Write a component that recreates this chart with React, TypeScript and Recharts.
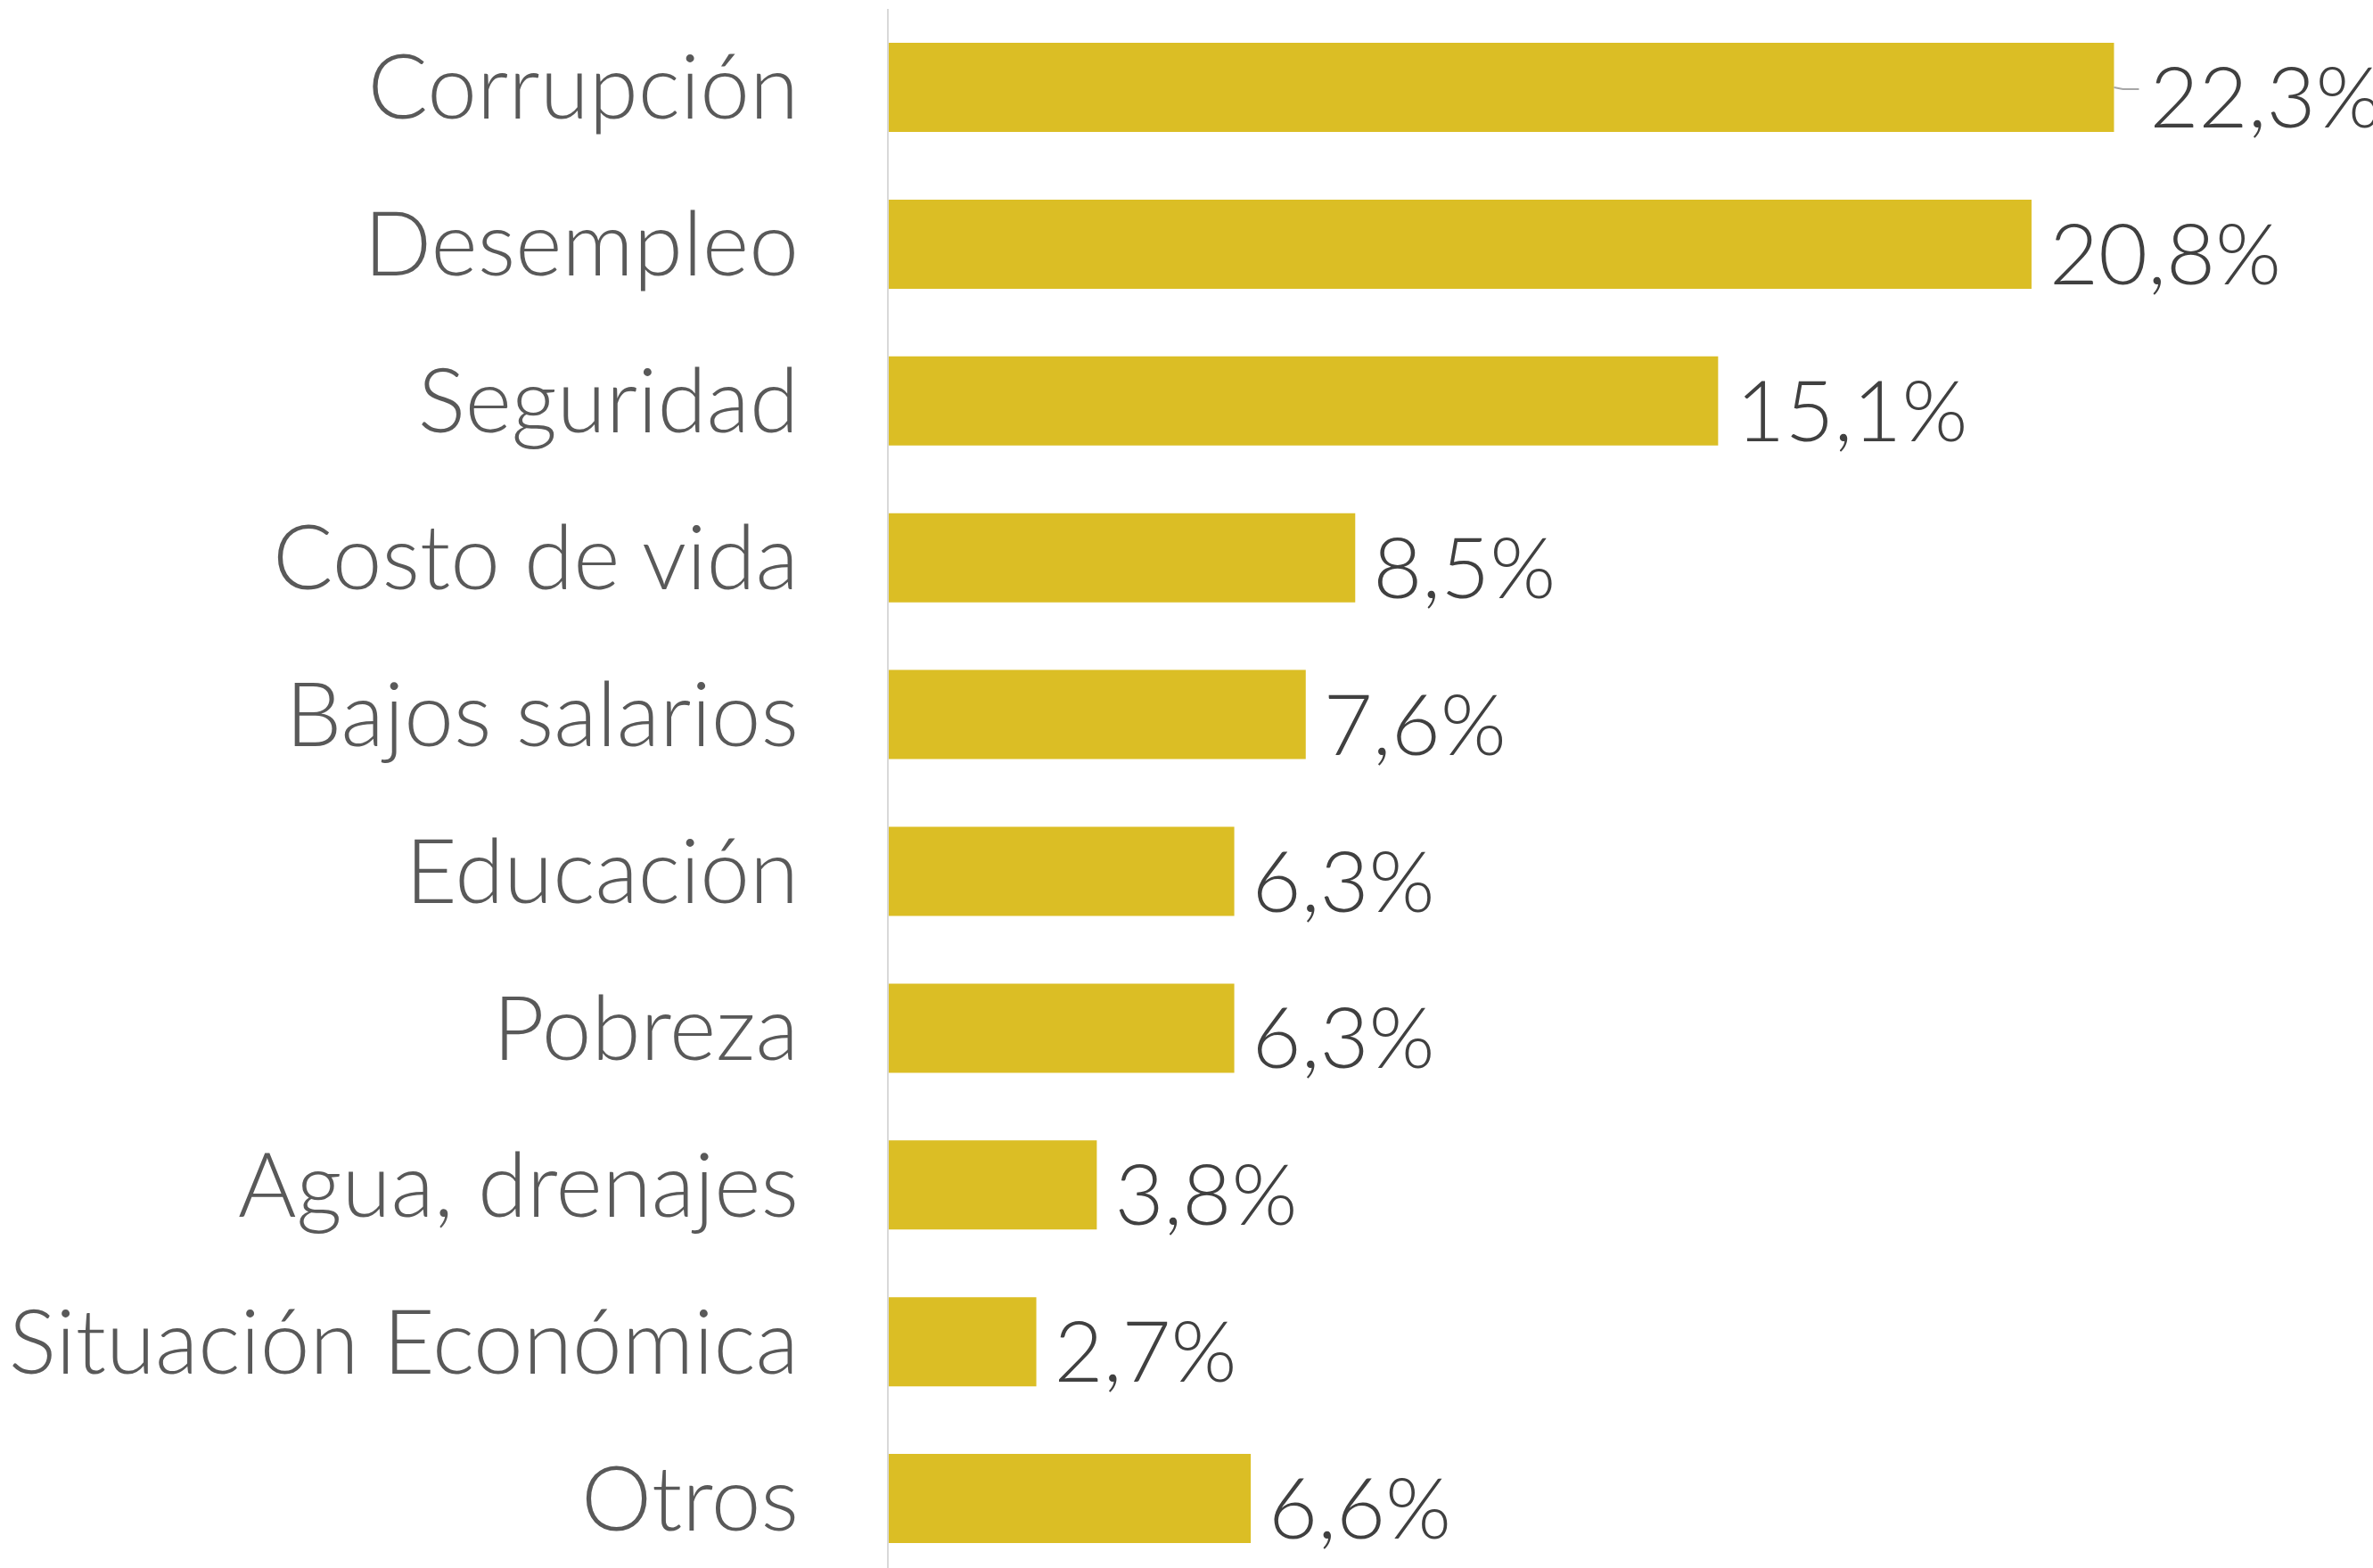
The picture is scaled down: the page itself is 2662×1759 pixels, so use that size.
import React from "react";
import { BarChart, Bar, XAxis, YAxis, LabelList } from "recharts";

const categories = [
  "Corrupción",
  "Desempleo",
  "Seguridad",
  "Costo de vida",
  "Bajos salarios",
  "Educación",
  "Pobreza",
  "Agua, drenajes",
  "Situación Económica",
  "Otros",
];
const values = [22.3, 20.8, 15.1, 8.5, 7.6, 6.3, 6.3, 3.8, 2.7, 6.6];
const valueLabels = ["22,3%", "20,8%", "15,1%", "8,5%", "7,6%", "6,3%", "6,3%", "3,8%", "2,7%", "6,6%"];

const data = categories.map((c, i) => ({ name: c, value: values[i], label: valueLabels[i] }));

const FONT = "Lato, 'Open Sans', sans-serif";

const ValueLabel = (props: any) => {
  const { x, y, width, height, index } = props;
  const cy = y + height / 2;
  const endX = x + width;
  const text = valueLabels[index];
  if (index === 0) {
    return (
      <g>
        <path d={`M${endX},${cy} L${endX + 10},${cy + 2} L${endX + 28},${cy + 2}`} stroke="#a6a6a6" strokeWidth={2} fill="none" />
        <text x={endX + 40} y={cy + 8} dominantBaseline="central" fontFamily={FONT} fontWeight={300} fontSize={95} fill="#404040">
          {text}
        </text>
      </g>
    );
  }
  return (
    <text x={endX + 20} y={cy + 8} dominantBaseline="central" fontFamily={FONT} fontWeight={300} fontSize={95} fill="#404040">
      {text}
    </text>
  );
};

export default function App() {
  return (
    <div style={{ position: "absolute", left: 0, top: 0, background: "#fff" }}>
      <BarChart
        width={2662}
        height={1769}
        data={data}
        layout="vertical"
        margin={{ top: 10, right: 124, bottom: 0, left: 0 }}
        barSize={100}
      >
        <XAxis type="number" domain={[0, 25]} hide />
        <YAxis
          type="category"
          dataKey="name"
          width={996}
          tickSize={0}
          tickMargin={100}
          axisLine={{ stroke: "#d9d9d9", strokeWidth: 2 }}
          tickLine={false}
          tick={{ fontFamily: FONT, fontWeight: 300, fontSize: 100, fill: "#595959" }}
          interval={0}
        />
        <Bar dataKey="value" fill="#DBBE25" isAnimationActive={false}>
          <LabelList dataKey="label" content={<ValueLabel />} />
        </Bar>
      </BarChart>
    </div>
  );
}
